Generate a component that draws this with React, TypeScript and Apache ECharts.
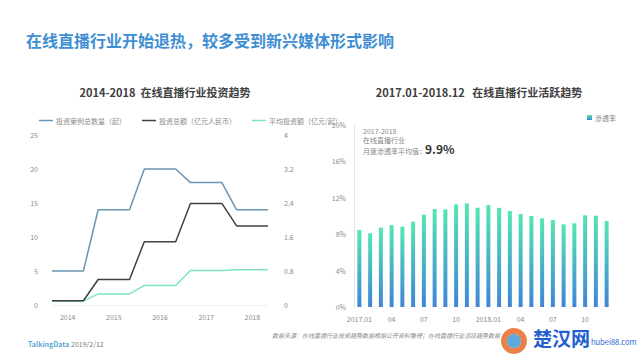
import React, { useEffect, useRef } from "react";
import * as echarts from "echarts";

const years = [2014, 2015, 2016, 2017, 2018];
const dealCount = [5, 14, 20, 18, 14];
const totalAmount = [0.1, 0.6, 1.49, 2.39, 1.86];
const avgAmount = [0.09, 0.26, 0.46, 0.81, 0.83];
const leftNames = ["投资案例总数量（起）", "投资总额（亿元人民币）", "平均投资额（亿元/起）"];

const months = [
  "2017.01", "02", "03", "04", "05", "06", "07", "08", "09", "10", "11", "12",
  "2018.01", "02", "03", "04", "05", "06", "07", "08", "09", "10", "11", "12",
];
const penetration = [
  8.47, 8.1, 8.72, 9.0, 8.83, 9.38, 10.15, 10.77, 10.73, 11.28, 11.39, 10.91,
  11.2, 10.9, 10.55, 10.22, 10.0, 9.75, 9.56, 9.09, 9.2, 10.08, 10.03, 9.45,
];

const FONT = "'Noto Sans CJK SC', 'Noto Sans', sans-serif";
const HALF = 0.34;

function steps(vals: number[]) {
  return years.flatMap((y, i) => [
    [y - HALF, vals[i]],
    [y + HALF, vals[i]],
  ]);
}

export default function App() {
  const ref = useRef<HTMLDivElement>(null);
  useEffect(() => {
    if (!ref.current) return;
    const chart = echarts.init(ref.current, null, { renderer: "svg" });
    const axisLabel = { color: "#8a8a8a", fontSize: 7, fontFamily: FONT };
    chart.setOption({
      animation: false,
      backgroundColor: "#fff",
      textStyle: { fontFamily: FONT },
      title: [
        {
          text: "在线直播行业开始退热，较多受到新兴媒体形式影响",
          left: 21,
          top: 27,
          textStyle: { color: "#3d8ed2", fontSize: 16, fontWeight: "bold", fontFamily: FONT },
        },
        {
          text: "2014-2018  在线直播行业投资趋势",
          left: 160,
          top: 81,
          textAlign: "center",
          textStyle: { color: "#404040", fontSize: 11, fontWeight: "bold", fontFamily: FONT },
        },
        {
          text: "2017.01-2018.12   在线直播行业活跃趋势",
          left: 474,
          top: 81,
          textAlign: "center",
          textStyle: { color: "#404040", fontSize: 11, fontWeight: "bold", fontFamily: FONT },
        },
      ],
      legend: [
        {
          left: 34,
          top: 112,
          itemWidth: 14,
          itemHeight: 1.5,
          itemGap: 16,
          icon: "rect",
          data: leftNames,
          textStyle: { color: "#8a8a8a", fontSize: 7, fontFamily: FONT, padding: [0, 0, 0, -2] },
        },
        {
          left: 582,
          top: 109,
          itemWidth: 5,
          itemHeight: 5,
          icon: "rect",
          data: ["渗透率"],
          textStyle: { color: "#8a8a8a", fontSize: 7, fontFamily: FONT, padding: [0, 0, 0, -2] },
        },
      ],
      grid: [
        { left: 52, top: 135, width: 216, height: 170 },
        { left: 354, top: 125, width: 258, height: 182 },
      ],
      xAxis: [
        {
          gridIndex: 0,
          type: "value",
          min: years[0] - HALF,
          max: years[years.length - 1] + HALF,
          splitLine: { show: false },
          axisLine: { show: true, lineStyle: { color: "#f0f0f0" } },
          axisTick: { show: false },
          axisLabel: { ...axisLabel, customValues: years, margin: 8, formatter: (v: number) => String(v) },
        },
        {
          gridIndex: 1,
          type: "category",
          data: months,
          axisLine: { show: false },
          axisTick: { show: false },
          axisLabel: { ...axisLabel, interval: 2, margin: 8 },
        },
      ],
      yAxis: [
        {
          gridIndex: 0,
          type: "value",
          min: 0,
          max: 25,
          interval: 5,
          splitLine: { show: false },
          axisLine: { show: false },
          axisTick: { show: false },
          axisLabel: { ...axisLabel, margin: 14 },
        },
        {
          gridIndex: 0,
          type: "value",
          min: 0,
          max: 4,
          interval: 0.8,
          position: "right",
          splitLine: { show: false },
          axisLine: { show: false },
          axisTick: { show: false },
          axisLabel: { ...axisLabel, margin: 16, align: "left" },
        },
        {
          gridIndex: 1,
          type: "value",
          min: 0,
          max: 20,
          interval: 4,
          splitLine: { show: false },
          axisLine: { show: true, lineStyle: { color: "#e4e4e4" } },
          axisTick: { show: false },
          axisLabel: { ...axisLabel, margin: 8, formatter: "{value}%" },
        },
      ],
      series: [
        {
          name: leftNames[0],
          type: "line",
          xAxisIndex: 0,
          yAxisIndex: 0,
          data: steps(dealCount),
          showSymbol: false,
          color: "#6795b3",
          lineStyle: { width: 1.5, color: "#6795b3" },
        },
        {
          name: leftNames[1],
          type: "line",
          xAxisIndex: 0,
          yAxisIndex: 1,
          data: steps(totalAmount),
          showSymbol: false,
          color: "#404040",
          lineStyle: { width: 1.5, color: "#404040" },
          z: 3,
        },
        {
          name: leftNames[2],
          type: "line",
          xAxisIndex: 0,
          yAxisIndex: 1,
          data: steps(avgAmount),
          showSymbol: false,
          color: "#7fe3c9",
          lineStyle: { width: 1.5, color: "#7fe3c9" },
          z: 2,
        },
        {
          name: "渗透率",
          type: "bar",
          xAxisIndex: 1,
          yAxisIndex: 2,
          data: penetration,
          barWidth: 4,
          color: "#4fd6b6",
          itemStyle: {
            color: new echarts.graphic.LinearGradient(0, 0, 0, 1, [
              { offset: 0, color: "#55e6b2" },
              { offset: 1, color: "#3f84d8" },
            ]),
          },
        },
      ],
      graphic: [
        { type: "text", left: 363, top: 127, style: { text: "2017-2018", fill: "#888", fontSize: 7, fontFamily: FONT } },
        { type: "text", left: 363, top: 136, style: { text: "在线直播行业", fill: "#888", fontSize: 7, fontFamily: FONT } },
        { type: "text", left: 363, top: 147, style: { text: "月度渗透率平均值：", fill: "#888", fontSize: 7, fontFamily: FONT } },
        { type: "text", left: 425, top: 142, style: { text: "9.9%", fill: "#333", fontSize: 12, fontWeight: "bold", fontFamily: FONT } },
        { type: "text", left: 28, top: 340, style: { text: "TalkingData", fill: "#5aaad2", fontSize: 7, fontWeight: "bold", fontFamily: FONT } },
        { type: "text", left: 71, top: 340, style: { text: "2019/2/12", fill: "#777", fontSize: 7, fontFamily: FONT } },
        {
          type: "text",
          left: 272,
          top: 332,
          style: {
            text: "数据来源：在线直播行业投资趋势数据根据公开资料整理；在线直播行业活跃趋势数据",
            fill: "#888",
            fontSize: 6,
            fontStyle: "italic",
            fontFamily: FONT,
          },
        },
        {
          type: "ring",
          shape: { cx: 514, cy: 341, r: 13, r0: 7 },
          style: { fill: "#e86a2a", opacity: 0.85 },
        },
        {
          type: "circle",
          shape: { cx: 514, cy: 341, r: 7 },
          style: { fill: "#3f9ad8", opacity: 0.85 },
        },
        {
          type: "text",
          left: 533,
          top: 328,
          style: { text: "楚汉网", fill: "#1f5fcf", fontSize: 19, fontWeight: "bold", fontFamily: FONT },
        },
        {
          type: "text",
          left: 591,
          top: 338,
          style: { text: "hubei88.com", fill: "#2a66cf", fontSize: 7.5, fontFamily: FONT },
        },
      ],
    });
    return () => chart.dispose();
  }, []);
  return <div ref={ref} style={{ width: 640, height: 360, position: "absolute", left: 0, top: 0 }} />;
}
